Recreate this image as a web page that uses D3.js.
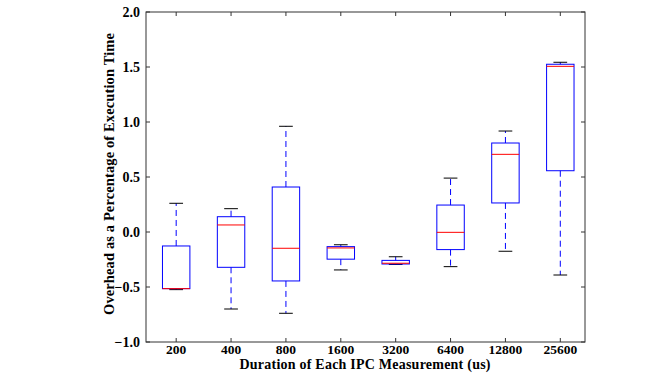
<!DOCTYPE html>
<html>
<head>
<meta charset="utf-8">
<script src="https://cdn.jsdelivr.net/npm/d3@7"></script>
<style>
  body { margin: 0; background: #fff; }
  svg text { font-family: "Liberation Serif", "DejaVu Serif", serif; font-weight: bold; fill: #000; }
</style>
</head>
<body>
<div id="chart"></div>
<script>
// categories and box statistics
const durations = ["200", "400", "800", "1600", "3200", "6400", "12800", "25600"];
const whiskerLow = [-0.524, -0.700, -0.739, -0.345, -0.295, -0.315, -0.175, -0.391];
const q1 = [-0.515, -0.321, -0.445, -0.247, -0.291, -0.160, 0.264, 0.557];
const medians = [-0.515, 0.064, -0.148, -0.145, -0.284, -0.003, 0.706, 1.506];
const q3 = [-0.127, 0.139, 0.409, -0.133, -0.258, 0.245, 0.809, 1.525];
const whiskerHigh = [0.261, 0.212, 0.961, -0.116, -0.225, 0.490, 0.918, 1.543];
const yTicks = [-1.0, -0.5, 0.0, 0.5, 1.0, 1.5, 2.0];

const W = 645, H = 373;
// plot frame
const pl = 146, pr = 585, pt = 12, pb = 342;

const svg = d3.select("#chart").append("svg")
    .attr("width", W).attr("height", H);

const data = durations.map((d, i) => ({
    name: d, pos: i + 1,
    lo: whiskerLow[i], q1: q1[i], med: medians[i], q3: q3[i], hi: whiskerHigh[i]
}));

const x = d3.scaleLinear().domain([0.45, 8.45]).range([pl, pr]);
const y = d3.scaleLinear().domain([-1, 2]).range([pb, pt]);
const boxW = x(1.25) - x(1);   // half width of a box (0.25 units)
const capW = x(1.125) - x(1);

// axes frame
svg.append("rect")
    .attr("x", pl).attr("y", pt)
    .attr("width", pr - pl).attr("height", pb - pt)
    .attr("fill", "none").attr("stroke", "#333").attr("stroke-width", 1);

// ticks, pointing inwards on every side
const tickLen = 4;
const g = svg.append("g");
g.append("g").selectAll("line").data(data).join("line")
    .attr("x1", d => x(d.pos)).attr("x2", d => x(d.pos))
    .attr("y1", pb).attr("y2", pb - tickLen)
    .attr("stroke", "#333");
g.append("g").selectAll("line").data(data).join("line")
    .attr("x1", d => x(d.pos)).attr("x2", d => x(d.pos))
    .attr("y1", pt).attr("y2", pt + tickLen)
    .attr("stroke", "#333");
g.append("g").selectAll("line").data(yTicks).join("line")
    .attr("x1", pl).attr("x2", pl + tickLen)
    .attr("y1", d => y(d)).attr("y2", d => y(d))
    .attr("stroke", "#333");
g.append("g").selectAll("line").data(yTicks).join("line")
    .attr("x1", pr).attr("x2", pr - tickLen)
    .attr("y1", d => y(d)).attr("y2", d => y(d))
    .attr("stroke", "#333");

// tick labels
svg.append("g").selectAll("text").data(data).join("text")
    .attr("x", d => x(d.pos)).attr("y", 354)
    .attr("text-anchor", "middle")
    .attr("font-size", "13.5px")
    .text(d => d.name);
svg.append("g").selectAll("text").data(yTicks).join("text")
    .attr("x", pl - 6).attr("y", d => y(d) + 4.5)
    .attr("text-anchor", "end")
    .attr("font-size", "14px")
    .text(d => d3.format(".1f")(d));

// axis titles
svg.append("text")
    .attr("x", 365).attr("y", 369)
    .attr("text-anchor", "middle")
    .attr("font-size", "14px")
    .attr("textLength", 251)
    .text("Duration of Each IPC Measurement (us)");
svg.append("text")
    .attr("transform", `translate(114, 174) rotate(-90)`)
    .attr("text-anchor", "middle")
    .attr("font-size", "14.5px")
    .attr("textLength", 282)
    .text("Overhead as a Percentage of Execution Time");

// boxes
const boxes = svg.append("g").selectAll("g").data(data).join("g");

// whiskers
boxes.append("line")
    .attr("x1", d => x(d.pos)).attr("x2", d => x(d.pos))
    .attr("y1", d => y(d.q3)).attr("y2", d => y(d.hi))
    .attr("stroke", "#0000ff").attr("stroke-dasharray", "6,4");
boxes.append("line")
    .attr("x1", d => x(d.pos)).attr("x2", d => x(d.pos))
    .attr("y1", d => y(d.q1)).attr("y2", d => y(d.lo))
    .attr("stroke", "#0000ff").attr("stroke-dasharray", "6,4");

// caps
boxes.append("line")
    .attr("x1", d => x(d.pos) - capW).attr("x2", d => x(d.pos) + capW)
    .attr("y1", d => y(d.hi)).attr("y2", d => y(d.hi))
    .attr("stroke", "#000");
boxes.append("line")
    .attr("x1", d => x(d.pos) - capW).attr("x2", d => x(d.pos) + capW)
    .attr("y1", d => y(d.lo)).attr("y2", d => y(d.lo))
    .attr("stroke", "#000");

// box
boxes.append("rect")
    .attr("x", d => x(d.pos) - boxW).attr("width", 2 * boxW)
    .attr("y", d => y(d.q3)).attr("height", d => y(d.q1) - y(d.q3))
    .attr("fill", "none").attr("stroke", "#0000ff");

// median
boxes.append("line")
    .attr("x1", d => x(d.pos) - boxW).attr("x2", d => x(d.pos) + boxW)
    .attr("y1", d => y(d.med)).attr("y2", d => y(d.med))
    .attr("stroke", "#ff0000");
</script>
</body>
</html>
